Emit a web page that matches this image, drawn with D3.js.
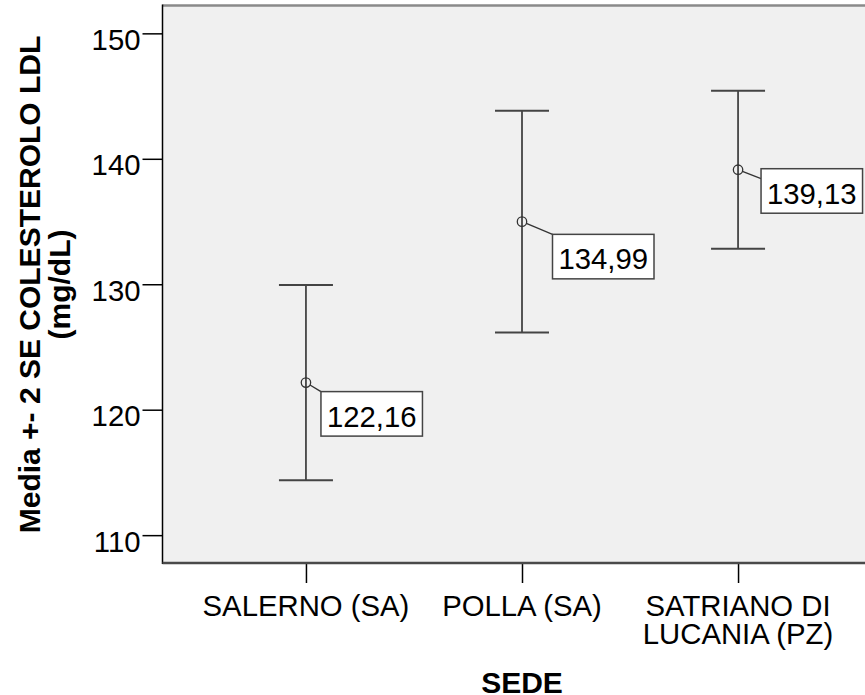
<!DOCTYPE html>
<html>
<head>
<meta charset="utf-8">
<script src="https://cdn.jsdelivr.net/npm/d3@7"></script>
<style>
  html, body { margin: 0; padding: 0; background: #ffffff; }
  svg { display: block; }
  text { font-family: "Liberation Sans", Arial, sans-serif; fill: #000; }
</style>
</head>
<body>
<svg id="chart" width="865" height="695"></svg>
<script>
// ---- data ----
const categories = ["SALERNO (SA)", "POLLA (SA)", "SATRIANO DI LUCANIA (PZ)"];
const categoryLines = [["SALERNO (SA)"], ["POLLA (SA)"], ["SATRIANO DI", "LUCANIA (PZ)"]];
const means = [122.16, 134.99, 139.13];
const upper = [129.94, 143.83, 145.43];
const lower = [114.38, 126.15, 132.83];
const meanLabels = ["122,16", "134,99", "139,13"];
const yTicks = [110, 120, 130, 140, 150];
const yTitleLines = ["Media +- 2 SE COLESTEROLO LDL", "(mg/dL)"];
const xTitle = "SEDE";

// ---- layout (label placement relative to each point) ----
const labelOffset = [
  { dx: 15, dy: 9, ay: 0 },
  { dx: 30.5, dy: 12.7, ay: 0 },
  { dx: 23, dy: -1, ay: 10 }
];

(function () {
const svg = d3.select("#chart");
const pLeft = 162.5, pRight = 881.5, pTop = 6, pBottom = 563;
const fs = 29.3;

const x = d3.scalePoint().domain(categories).range([pLeft, pRight]).padding(0.664);
const y = d3.scaleLinear().domain([107.78, 152.18]).range([pBottom, pTop]);

// plot background
svg.append("rect")
  .attr("x", pLeft).attr("y", pTop)
  .attr("width", pRight - pLeft).attr("height", pBottom - pTop)
  .attr("fill", "#f0f0f0");

// frame top
svg.append("line").attr("x1", pLeft).attr("x2", pRight).attr("y1", pTop - 0.5).attr("y2", pTop - 0.5)
  .attr("stroke", "#8a8a8a").attr("stroke-width", 2.5);

// y axis
const yAxis = d3.axisLeft(y).tickValues(yTicks).tickSize(20).tickPadding(2).tickFormat(d3.format("d"));
const gy = svg.append("g").attr("transform", `translate(${pLeft},0)`).call(yAxis);
gy.select(".domain").remove();
gy.selectAll(".tick line").attr("stroke", "#000").attr("stroke-width", 1.5);
gy.selectAll(".tick text")
  .attr("font-size", fs).attr("dy", null).attr("y", 16)
  .style("font-family", '"Liberation Sans", Arial, sans-serif').attr("fill", "#000");
svg.append("line").attr("x1", pLeft).attr("x2", pLeft).attr("y1", pTop - 1.5).attr("y2", pBottom + 1)
  .attr("stroke", "#000").attr("stroke-width", 1.5);

// x axis
const xAxis = d3.axisBottom(x).tickSize(20).tickFormat("");
const gx = svg.append("g").attr("transform", `translate(0,${pBottom})`).call(xAxis);
gx.select(".domain").remove();
gx.selectAll(".tick line").attr("stroke", "#000").attr("stroke-width", 1.5);
svg.append("line").attr("x1", pLeft).attr("x2", pRight).attr("y1", pBottom).attr("y2", pBottom)
  .attr("stroke", "#4a4a4a").attr("stroke-width", 2.5);

// category labels
categories.forEach((c, i) => {
  const t = svg.append("text").attr("x", x(c)).attr("y", 616)
    .attr("text-anchor", "middle").attr("font-size", fs);
  categoryLines[i].forEach((ln, j) => {
    t.append("tspan").attr("x", x(c)).attr("dy", j === 0 ? 0 : 28).text(ln);
  });
});

// axis titles
svg.append("text").attr("x", (pLeft + pRight) / 2).attr("y", 693)
  .attr("text-anchor", "middle").attr("font-size", 30).attr("font-weight", "bold").text(xTitle);
yTitleLines.forEach((ln, j) => {
  svg.append("text")
    .attr("transform", `translate(${40 + j * 30},${(pTop + pBottom) / 2}) rotate(-90)`)
    .attr("text-anchor", "middle").attr("font-size", 30).attr("font-weight", "bold").text(ln);
});

// error bars
const capHalf = 27;
categories.forEach((c, i) => {
  const cx = x(c);
  svg.append("line").attr("x1", cx).attr("x2", cx).attr("y1", y(upper[i])).attr("y2", y(lower[i]))
    .attr("stroke", "#222").attr("stroke-width", 1.5);
  [upper[i], lower[i]].forEach(v => {
    svg.append("line").attr("x1", cx - capHalf).attr("x2", cx + capHalf).attr("y1", y(v)).attr("y2", y(v))
      .attr("stroke", "#444").attr("stroke-width", 2);
  });
});

// mean markers + labels
const boxW = 101.5, boxH = 44.5;
categories.forEach((c, i) => {
  const cx = x(c), cy = y(means[i]);
  const o = labelOffset[i];
  const bx = cx + o.dx, by = cy + o.dy;
  const ax = bx, ay = by + o.ay;
  const ang = Math.atan2(ay - cy, ax - cx);
  const r = 4.7;
  svg.append("line")
    .attr("x1", cx + r * Math.cos(ang)).attr("y1", cy + r * Math.sin(ang))
    .attr("x2", ax).attr("y2", ay)
    .attr("stroke", "#333").attr("stroke-width", 1.3);
  svg.append("circle").attr("cx", cx).attr("cy", cy).attr("r", r)
    .attr("fill", "none").attr("stroke", "#333").attr("stroke-width", 1.3);
  svg.append("rect").attr("x", bx).attr("y", by).attr("width", boxW).attr("height", boxH)
    .attr("fill", "#fff").attr("stroke", "#444").attr("stroke-width", 1.5);
  svg.append("text").attr("x", bx + boxW / 2).attr("y", by + 35)
    .attr("text-anchor", "middle").attr("font-size", fs).text(meanLabels[i]);
});
})();
</script>
</body>
</html>
